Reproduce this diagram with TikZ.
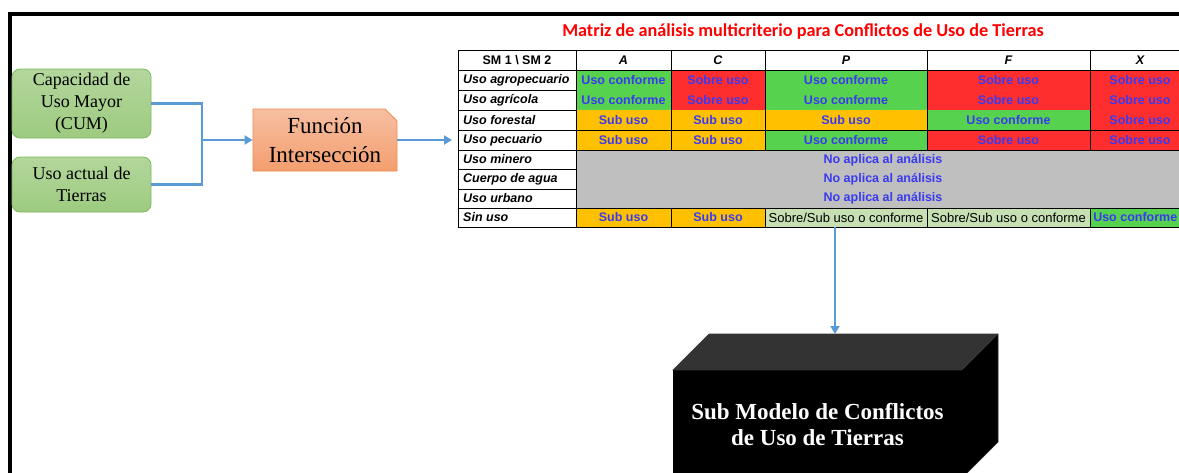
\documentclass[tikz,border=0pt]{standalone}
\usepackage{fontspec}
\setmainfont{Liberation Serif}
\newfontfamily\tabfont{Liberation Sans}
\newfontfamily\titlefont{Carlito}
\usetikzlibrary{shapes.misc,arrows.meta}
\definecolor{cgreen}{HTML}{56D24E}
\definecolor{cred}{HTML}{FF2E2E}
\definecolor{corange}{HTML}{FFC000}
\definecolor{cgray}{HTML}{BFBFBF}
\definecolor{clight}{HTML}{C6E0B4}
\definecolor{cblue}{HTML}{3A3AF0}
\definecolor{arrowblue}{HTML}{5B9BD5}
\definecolor{boxgreenT}{HTML}{B3D69C}
\definecolor{boxgreenB}{HTML}{9DCB80}
\definecolor{boxgreenL}{HTML}{7FBA5C}
\definecolor{funT}{HTML}{F6BFA2}
\definecolor{funB}{HTML}{F49E6E}
\definecolor{funL}{HTML}{F08A50}
\definecolor{topgray}{HTML}{333333}
\newcommand\tcell[7]{\fill[#5] (#1,#3) rectangle (#2,#4);
  \node[celltxt] (#6) at ({(#1+#2)/2},{(#3+#4)/2}) {#7};}
\newcommand\rlab[3]{\node[rowtxt] (#1) at (463,#2) {#3};}
\begin{document}
\begin{tikzpicture}[x=1pt,y=-1pt,
  greenbox/.style={draw=boxgreenL, line width=0.8pt, rounded corners=8pt,
    top color=boxgreenT, bottom color=boxgreenB, minimum width=139pt,
    inner sep=0pt, align=center, font=\fontsize{18}{22}\selectfont},
  funbox/.style={chamfered rectangle, chamfered rectangle corners=north east,
    chamfered rectangle xsep=9pt, draw=funL, line width=0.8pt,
    top color=funT, bottom color=funB, minimum width=144pt, minimum height=62pt,
    inner sep=0pt, align=center, font=\fontsize{23}{29}\selectfont},
  conn/.style={draw=arrowblue, line width=2.8pt},
  arr/.style={conn, -{Triangle[length=8pt,width=9pt]}},
  celltxt/.style={inner sep=0pt, text=cblue, font=\tabfont\bfseries\fontsize{12.5}{12.5}\selectfont},
  plaintxt/.style={inner sep=0pt, text=black, font=\tabfont\fontsize{13}{13}\selectfont},
  rowtxt/.style={inner sep=0pt, anchor=west, font=\tabfont\bfseries\itshape\fontsize{12.5}{12.5}\selectfont},
  headtxt/.style={inner sep=0pt, font=\tabfont\bfseries\itshape\fontsize{12.5}{12.5}\selectfont},
  grid/.style={draw=black, line width=1pt}
]
\useasboundingbox (0,0) rectangle (1179,472);
\clip (0,0) rectangle (1179,472);
\fill[white] (0,0) rectangle (1179,472);

% frame
\draw[line width=4pt] (10,490) -- (10,13.5) -- (1200,13.5);

% left boxes
\node[greenbox, minimum height=69pt] (cum) at (81.5,103.5) {Capacidad de\\Uso Mayor\\(CUM)};
\node[greenbox, minimum height=55pt] (uat) at (81.5,184.5) {Uso actual de\\Tierras};
\node[funbox] (fun) at (325,140) {Función\\Intersección};
\coordinate (j) at (202,140);
\coordinate (tab) at (452,140);
\draw[conn] (cum.east) -| (j);
\draw[conn] (uat.east) -| (j);
\draw[arr] (j) -- (fun.west);
\draw[arr] (fun.east) -- (tab);

% title
\node[text=red, inner sep=0pt, font=\titlefont\bfseries\fontsize{18.2}{18.2}\selectfont] (title) at (803,32) {Matriz de análisis multicriterio para Conflictos de Uso de Tierras};

% table header
\node[inner sep=0pt, font=\tabfont\bfseries\fontsize{12.5}{12.5}\selectfont] (h0) at (517,60) {SM 1 \textbackslash{} SM 2};
\node[headtxt] (hA) at (623.5,60) {A};
\node[headtxt] (hC) at (718,60) {C};
\node[headtxt] (hP) at (846,60) {P};
\node[headtxt] (hF) at (1008.5,60) {F};
\node[headtxt] (hX) at (1140,60) {X};

% row 1
\tcell{576}{671}{70}{90}{cgreen}{a1}{Uso conforme}
\tcell{671}{765}{70}{90}{cred}{c1}{Sobre uso}
\tcell{765}{927}{70}{90}{cgreen}{p1}{Uso conforme}
\tcell{927}{1090}{70}{90}{cred}{f1}{Sobre uso}
\tcell{1090}{1190}{70}{90}{cred}{x1}{Sobre uso}
% row 2
\tcell{576}{671}{90}{110}{cgreen}{a2}{Uso conforme}
\tcell{671}{765}{90}{110}{cred}{c2}{Sobre uso}
\tcell{765}{927}{90}{110}{cgreen}{p2}{Uso conforme}
\tcell{927}{1090}{90}{110}{cred}{f2}{Sobre uso}
\tcell{1090}{1190}{90}{110}{cred}{x2}{Sobre uso}
% row 3
\tcell{576}{671}{110}{130}{corange}{a3}{Sub uso}
\tcell{671}{765}{110}{130}{corange}{c3}{Sub uso}
\tcell{765}{927}{110}{130}{corange}{p3}{Sub uso}
\tcell{927}{1090}{110}{130}{cgreen}{f3}{Uso conforme}
\tcell{1090}{1190}{110}{130}{cred}{x3}{Sobre uso}
% row 4
\tcell{576}{671}{130}{150}{corange}{a4}{Sub uso}
\tcell{671}{765}{130}{150}{corange}{c4}{Sub uso}
\tcell{765}{927}{130}{150}{cgreen}{p4}{Uso conforme}
\tcell{927}{1090}{130}{150}{cred}{f4}{Sobre uso}
\tcell{1090}{1190}{130}{150}{cred}{x4}{Sobre uso}
% rows 5-7
\tcell{576}{1190}{150}{169.5}{cgray}{n5}{No aplica al análisis}
\tcell{576}{1190}{169.5}{189}{cgray}{n6}{No aplica al análisis}
\tcell{576}{1190}{189}{208}{cgray}{n7}{No aplica al análisis}
% row 8
\tcell{576}{671}{208}{227}{corange}{a8}{Sub uso}
\tcell{671}{765}{208}{227}{corange}{c8}{Sub uso}
\fill[clight] (765,208) rectangle (927,227);
\node[plaintxt] (p8) at (846,217.5) {Sobre/Sub uso o conforme};
\fill[clight] (927,208) rectangle (1090,227);
\node[plaintxt] (f8) at (1008.5,217.5) {Sobre/Sub uso o conforme};
\fill[cgreen] (1090,208) rectangle (1190,227);
\node[celltxt, anchor=east] (x8) at (1177.5,217.5) {Uso conforme};

% row labels
\rlab{l1}{80}{Uso agropecuario}
\rlab{l2}{100}{Uso agrícola}
\rlab{l3}{120}{Uso forestal}
\rlab{l4}{140}{Uso pecuario}
\rlab{l5}{159.5}{Uso minero}
\rlab{l6}{179}{Cuerpo de agua}
\rlab{l7}{198.5}{Uso urbano}
\rlab{l8}{217.5}{Sin uso}

% grid
\draw[grid] (458,50) rectangle (1190,227);
\draw[grid] (458,70) -- (1190,70);
\foreach \yy in {90,110,130,150,169.5,189} \draw[grid] (458,\yy) -- (576,\yy);
\draw[grid] (458,208) -- (1190,208);
\draw[grid] (576,130) -- (1190,130);
\draw[grid] (576,150) -- (1190,150);
\draw[grid] (576,50) -- (576,227);
\foreach \xx in {671,765,927,1090} {\draw[grid] (\xx,50) -- (\xx,150); \draw[grid] (\xx,208) -- (\xx,227);}

% 3D box
\fill[topgray] (673,370) -- (709,334) -- (998,334) -- (962,370) -- cycle;
\fill[black] (962,370) -- (998,334) -- (998,442) -- (962,478) -- cycle;
\node[fill=black, minimum width=289pt, minimum height=110pt, inner sep=0pt, text=white,
  align=center, font=\bfseries\fontsize{23}{26}\selectfont] (sub) at (817.5,425) {Sub Modelo de Conflictos\\de Uso de Tierras};
\draw[draw=black!80!white, line width=0.6pt] (673,370) -- (709,334) -- (998,334) -- (962,370) -- cycle;
\draw[draw=black!85!white, line width=0.6pt] (998,334) -- (998,442) -- (962,478);

\coordinate (tb) at (835,227);
\coordinate (st) at (835,334);
\draw[arr, line width=2.2pt] (tb) -- (st);
\end{tikzpicture}
\end{document}
